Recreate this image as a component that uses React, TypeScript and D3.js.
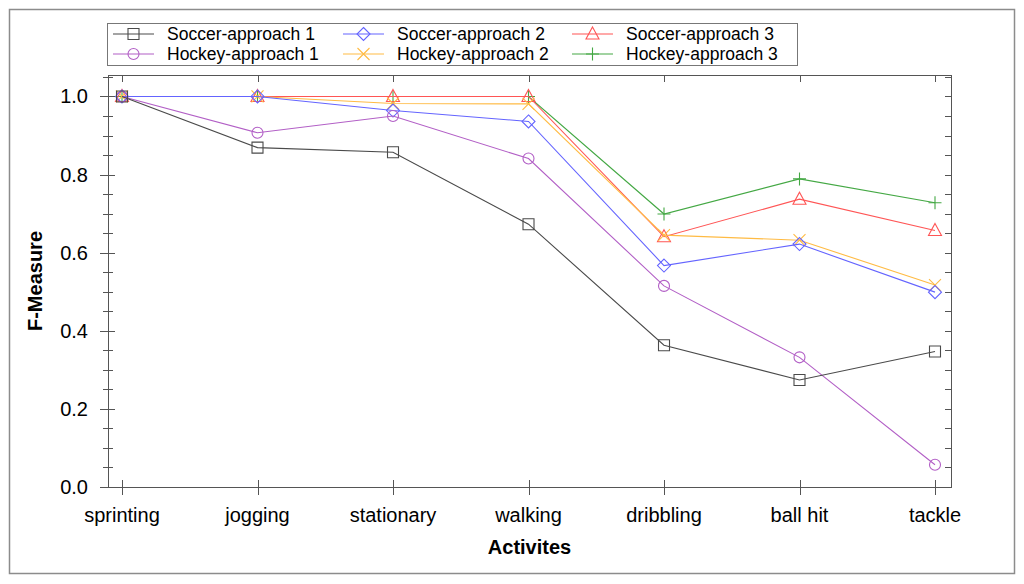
import React, { useEffect, useRef } from "react";
import * as d3 from "d3";

// chart values
const activities = ["sprinting", "jogging", "stationary", "walking", "dribbling", "ball hit", "tackle"];
const soccer1 = [1.0, 0.869, 0.857, 0.673, 0.363, 0.274, 0.347];
const hockey1 = [1.0, 0.907, 0.95, 0.841, 0.515, 0.332, 0.057];
const soccer2 = [1.0, 1.0, 0.964, 0.936, 0.567, 0.622, 0.499];
const hockey2 = [1.0, 1.0, 0.982, 0.981, 0.645, 0.632, 0.517];
const soccer3 = [1.0, 1.0, 1.0, 1.0, 0.641, 0.737, 0.657];
const hockey3 = [1.0, 1.0, 1.0, 1.0, 0.699, 0.789, 0.728];
const yTicks = [0, 0.2, 0.4, 0.6, 0.8, 1.0];

const series = [
  { name: "Soccer-approach 1", values: soccer1, color: "#4a4a4a", marker: "square" },
  { name: "Hockey-approach 1", values: hockey1, color: "#b25fc6", marker: "circle" },
  { name: "Soccer-approach 2", values: soccer2, color: "#6464ff", marker: "diamond" },
  { name: "Hockey-approach 2", values: hockey2, color: "#ffbb44", marker: "times" },
  { name: "Soccer-approach 3", values: soccer3, color: "#ff5555", marker: "triangle" },
  { name: "Hockey-approach 3", values: hockey3, color: "#44a844", marker: "plus" },
];

const W = 1024;
const H = 584;
const plot = { left: 108, right: 951, top: 75, bottom: 487 };
const FONT = "'Liberation Sans', Arial, sans-serif";

function markerPath(type: string) {
  const p = d3.path();
  if (type === "square") {
    p.rect(-5.5, -5.5, 11, 11);
  } else if (type === "circle") {
    p.arc(0, 0, 5.5, 0, Math.PI * 2);
  } else if (type === "diamond") {
    p.moveTo(0, -6.5);
    p.lineTo(6.5, 0);
    p.lineTo(0, 6.5);
    p.lineTo(-6.5, 0);
    p.closePath();
  } else if (type === "triangle") {
    p.moveTo(0, -7);
    p.lineTo(6.5, 5);
    p.lineTo(-6.5, 5);
    p.closePath();
  } else if (type === "times") {
    p.moveTo(-6, -6);
    p.lineTo(6, 6);
    p.moveTo(6, -6);
    p.lineTo(-6, 6);
  } else {
    p.moveTo(-6.5, 0);
    p.lineTo(6.5, 0);
    p.moveTo(0, -6.5);
    p.lineTo(0, 6.5);
  }
  return p.toString();
}

const App = () => {
  const ref = useRef(null);

  useEffect(() => {
    document.body.style.margin = "0";
    const svg = d3.select(ref.current);
    svg.selectAll("*").remove();

    const x: any = d3.scalePoint().domain(activities).range([122, 935]);
    const y = d3.scaleLinear().domain([0, 1.055]).range([plot.bottom, plot.top]);
    const minor = d3.range(0, 1.0501, 0.05);

    // outer frame
    svg
      .append("rect")
      .attr("x", 9.5)
      .attr("y", 9.5)
      .attr("width", 1005)
      .attr("height", 564)
      .attr("fill", "#fff")
      .attr("stroke", "#8c8c8c")
      .attr("stroke-width", 1.5);

    const axisColor = "#555";

    // plot box
    svg
      .append("rect")
      .attr("x", plot.left + 0.5)
      .attr("y", plot.top + 0.5)
      .attr("width", plot.right - plot.left)
      .attr("height", plot.bottom - plot.top)
      .attr("fill", "none")
      .attr("stroke", axisColor);

    // left ticks
    const left = svg.append("g");
    left
      .selectAll("line.minor")
      .data(minor)
      .join("line")
      .attr("x1", plot.left - 5)
      .attr("x2", plot.left + 5)
      .attr("y1", (d) => Math.round(y(d)) + 0.5)
      .attr("y2", (d) => Math.round(y(d)) + 0.5)
      .attr("stroke", axisColor);
    left
      .selectAll("line.major")
      .data(yTicks)
      .join("line")
      .attr("class", "major")
      .attr("x1", plot.left - 8)
      .attr("x2", plot.left + 7)
      .attr("y1", (d) => Math.round(y(d)) + 0.5)
      .attr("y2", (d) => Math.round(y(d)) + 0.5)
      .attr("stroke", axisColor);
    left
      .selectAll("text")
      .data(yTicks)
      .join("text")
      .attr("x", 88)
      .attr("y", (d) => y(d) + 7)
      .attr("text-anchor", "end")
      .style("font-family", FONT)
      .style("font-size", "20px")
      .attr("fill", "#000")
      .text((d) => d3.format(".1f")(d));

    // right ticks
    svg
      .append("g")
      .selectAll("line")
      .data(minor)
      .join("line")
      .attr("x1", plot.right - 6)
      .attr("x2", plot.right)
      .attr("y1", (d) => Math.round(y(d)) + 0.5)
      .attr("y2", (d) => Math.round(y(d)) + 0.5)
      .attr("stroke", axisColor);

    // bottom + top ticks
    const bottom = svg.append("g");
    bottom
      .selectAll("line.b")
      .data(activities)
      .join("line")
      .attr("x1", (d) => Math.round(x(d)) + 0.5)
      .attr("x2", (d) => Math.round(x(d)) + 0.5)
      .attr("y1", plot.bottom - 7)
      .attr("y2", plot.bottom + 8)
      .attr("stroke", axisColor);
    svg
      .append("g")
      .selectAll("line")
      .data(activities)
      .join("line")
      .attr("x1", (d) => Math.round(x(d)) + 0.5)
      .attr("x2", (d) => Math.round(x(d)) + 0.5)
      .attr("y1", plot.top)
      .attr("y2", plot.top + 7)
      .attr("stroke", axisColor);
    bottom
      .selectAll("text")
      .data(activities)
      .join("text")
      .attr("x", (d) => x(d))
      .attr("y", 522)
      .attr("text-anchor", "middle")
      .style("font-family", FONT)
      .style("font-size", "20px")
      .attr("fill", "#000")
      .text((d) => d);

    // axis titles
    svg
      .append("text")
      .attr("x", (plot.left + plot.right) / 2)
      .attr("y", 554)
      .attr("text-anchor", "middle")
      .style("font-family", FONT)
      .style("font-size", "20px")
      .style("font-weight", "bold")
      .text("Activites");
    svg
      .append("text")
      .attr("transform", `translate(42,${(plot.top + plot.bottom) / 2}) rotate(-90)`)
      .attr("text-anchor", "middle")
      .style("font-family", FONT)
      .style("font-size", "20px")
      .style("font-weight", "bold")
      .text("F-Measure");

    // lines and markers, drawn back to front
    const line = d3
      .line<number>()
      .x((d, i) => x(activities[i]))
      .y((d) => y(d));
    const drawOrder = [5, 4, 3, 2, 1, 0];
    drawOrder.forEach((si) => {
      const s = series[si];
      const g = svg.append("g");
      g.append("path")
        .datum(s.values)
        .attr("d", line)
        .attr("fill", "none")
        .attr("stroke", s.color)
        .attr("stroke-width", 1.1);
      g.selectAll("path.m")
        .data(s.values)
        .join("path")
        .attr("class", "m")
        .attr("transform", (d, i) => `translate(${x(activities[i])},${y(d)})`)
        .attr("d", markerPath(s.marker))
        .attr("fill", "none")
        .attr("stroke", s.color)
        .attr("stroke-width", 1.1);
    });

    // legend
    const legend = svg.append("g");
    legend
      .append("rect")
      .attr("x", 107.5)
      .attr("y", 23.5)
      .attr("width", 690)
      .attr("height", 42)
      .attr("fill", "#fff")
      .attr("stroke", "#777");
    const colX = [113, 343, 572];
    const rowY = [34, 54];
    const item = legend
      .selectAll("g")
      .data(series)
      .join("g")
      .attr("transform", (d, i) => `translate(${colX[Math.floor(i / 2)]},${rowY[i % 2]})`);
    item
      .append("line")
      .attr("x1", 0)
      .attr("x2", 41)
      .attr("stroke", (d) => d.color)
      .attr("stroke-width", 1.1);
    item
      .append("path")
      .attr("transform", "translate(20.5,0)")
      .attr("d", (d) => markerPath(d.marker))
      .attr("fill", "none")
      .attr("stroke", (d) => d.color)
      .attr("stroke-width", 1.1);
    item
      .append("text")
      .attr("x", 54)
      .attr("y", 6)
      .style("font-family", FONT)
      .style("font-size", "17.5px")
      .attr("fill", "#000")
      .text((d) => d.name);
  }, []);

  return <svg ref={ref} width={W} height={H} style={{ display: "block" }}></svg>;
};

export default App;
